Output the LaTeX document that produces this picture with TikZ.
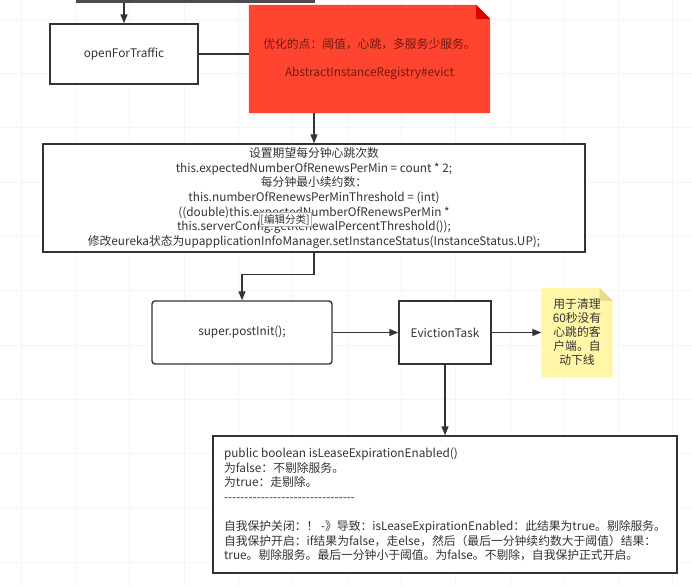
\documentclass[tikz,border=0pt]{standalone}
\usepackage{fontspec}
\setmainfont{Noto Sans CJK SC}
\usepackage{xcolor}
\usetikzlibrary{arrows.meta,positioning,backgrounds}

\definecolor{inkgray}{HTML}{333333}
\definecolor{notered}{HTML}{FF4530}
\definecolor{foldred}{HTML}{E00000}
\definecolor{notetext}{HTML}{6E1A10}
\definecolor{noteyellow}{HTML}{FFF6A8}
\definecolor{foldyellow}{HTML}{E6DC8A}

\begin{document}
\begin{tikzpicture}[
  x=1pt, y=-1pt,
  font=\fontsize{11.8}{14.6}\selectfont,
  box/.style={rectangle, draw=inkgray, line width=1.4pt, fill=white,
              text=inkgray, align=center, inner sep=0pt},
  rbox/.style={box, rounded corners=3pt},
  note/.style={rectangle, inner sep=0pt, align=center},
  arr/.style={-{Triangle[length=9pt,width=7pt]}, line width=1.4pt, inkgray},
  link/.style={line width=1.4pt, inkgray},
]

\useasboundingbox (0,0) rectangle (692,586);

% Faint grid
\begin{scope}[on background layer]
  \foreach \gx in {21,75.3,...,692} \draw[black!4] (\gx,0) -- (\gx,586);
  \foreach \gy in {19,73.3,...,586} \draw[black!4] (0,\gy) -- (692,\gy);
\end{scope}

% Cut-off step above
\node[rectangle, fill=black!70, minimum width=239, minimum height=30,
      anchor=south, inner sep=0pt] (prev) at (195.5,3) {};

% openForTraffic
\node[box, minimum width=148, minimum height=60] (open) at (124,54)
  {openForTraffic};

% Red hint note
\node[note, minimum width=241, minimum height=108, text=notetext] (hint)
  at (369.5,59)
  {优化的点：阈值，心跳，多服务少服务。\\[13.5pt]AbstractInstanceRegistry\#evict};

% Threshold setup
\node[box, minimum width=542, minimum height=108] (setup) at (314,198)
  {设置期望每分钟心跳次数\\
   this.expectedNumberOfRenewsPerMin = count * 2;\\
   每分钟最小续约数：\\
   this.numberOfRenewsPerMinThreshold = (int)\\
   ((double)this.expectedNumberOfRenewsPerMin *\\
   this.serverConfig.getRenewalPercentThreshold());\\
   修改eureka状态为upapplicationInfoManager.setInstanceStatus(InstanceStatus.UP);};

% Category tag over the text
\node[rectangle, draw=black!30, fill=white, text=inkgray, inner sep=1.5pt,
      font=\fontsize{10.5}{12}\selectfont] (tag) at (285,219.5) {[编辑分类]};

% super.postInit
\node[rbox, minimum width=180, minimum height=63] (post) at (242,332.5)
  {super.postInit();};

% EvictionTask
\node[box, minimum width=92, minimum height=63] (evict) at (445,332.5)
  {EvictionTask};

% Yellow note
\node[note, minimum width=71, minimum height=89, text=inkgray,
      font=\fontsize{11.8}{14}\selectfont] (memo) at (577,332.5)
  {用于清理\\60秒没有\\心跳的客\\户端。自\\动下线};

% Lease expiration check
\node[box, minimum width=464, minimum height=137, align=left] (lease)
  at (445,504.5)
  {public boolean isLeaseExpirationEnabled()\\
   为false：不剔除服务。\\
   为true：走剔除。\\
   -{}-{}-{}-{}-{}-{}-{}-{}-{}-{}-{}-{}-{}-{}-{}-{}-{}-{}-{}-{}-{}-{}-{}-{}-{}-{}-{}-{}-{}-{}-{}-\\[14.6pt]
   自我保护关闭：！ -》导致：isLeaseExpirationEnabled：此结果为true。剔除服务。\\
   自我保护开启：if结果为false，走else，然后（最后一分钟续约数大于阈值）结果：\\
   true。剔除服务。最后一分钟小于阈值。为false。不剔除，自我保护正式开启。};

% Note bodies with folded corners
\begin{scope}[on background layer]
  \fill[notered] (hint.south west) -- (hint.north west)
    -- ([xshift=-14pt]hint.north east) -- ([yshift=-14pt]hint.north east)
    -- (hint.south east) -- cycle;
  \fill[foldred] ([xshift=-14pt]hint.north east)
    -- ([yshift=-14pt]hint.north east) -- ([shift={(-14pt,-14pt)}]hint.north east)
    -- cycle;
  \fill[noteyellow] (memo.south west) -- (memo.north west)
    -- ([xshift=-13pt]memo.north east) -- ([yshift=-13pt]memo.north east)
    -- (memo.south east) -- cycle;
  \fill[foldyellow] ([xshift=-13pt]memo.north east)
    -- ([yshift=-13pt]memo.north east) -- ([shift={(-13pt,-13pt)}]memo.north east)
    -- cycle;
\end{scope}

% Arrows
\draw[arr] (prev.south -| open.north) -- (open.north);
\draw[link] (open.east) -- (open.east -| hint.west);
\draw[arr] (hint.south -| setup.north) -- (setup.north);
\draw[arr] (setup.south) -- ++(0,22) -| (post.north);
\draw[arr] (post.east) -- (evict.west);
\draw[arr] (evict.east) -- (memo.west);
\draw[arr] (evict.south) -- (lease.north);

\end{tikzpicture}
\end{document}
